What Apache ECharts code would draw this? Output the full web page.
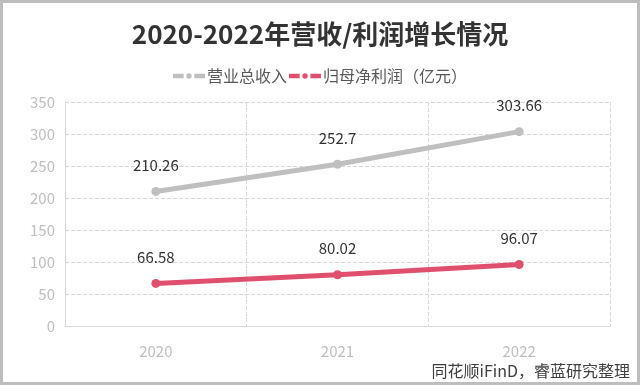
<!DOCTYPE html>
<html><head><meta charset="utf-8">
<script src="https://cdn.jsdelivr.net/npm/echarts@6/dist/echarts.min.js"></script>
<style>html,body{margin:0;padding:0;background:#fff}#c{width:640px;height:385px}</style>
</head><body><div id="c"></div>
<script>
const categories = ['2020', '2021', '2022'];
const revenue = [210.26, 252.7, 303.66];
const netProfit = [66.58, 80.02, 96.07];
const seriesNames = ['营业总收入', '归母净利润（亿元）'];
const yTicks = [0, 50, 100, 150, 200, 250, 300, 350];

const chart = echarts.init(document.getElementById('c'));
const font = '"Noto Sans CJK SC", "Microsoft YaHei", sans-serif';
const legendIcon = 'path://M0,3h10v4h-10z M12.5,5a2.5,2.5 0 1,0 5,0a2.5,2.5 0 1,0 -5,0z M20,3h10v4h-10z';
chart.setOption({
  animation: false,
  textStyle: { fontFamily: font },
  title: {
    text: '2020-2022年营收/利润增长情况',
    left: 'center', top: 16,
    textStyle: { fontSize: 26, fontWeight: 'bold', color: '#333', fontFamily: font }
  },
  legend: {
    top: 63, left: 'center',
    itemWidth: 32, itemHeight: 10, itemGap: 2,
    textStyle: { fontSize: 16, color: '#595959', fontFamily: font, padding: [0, 0, 0, -3] },
    data: [{ name: seriesNames[0], icon: legendIcon }, { name: seriesNames[1], icon: legendIcon }]
  },
  graphic: [{
    type: 'rect', shape: { x: 1.5, y: 1.5, width: 637, height: 382 },
    style: { fill: 'none', stroke: '#bdbdbd', lineWidth: 3 }, silent: true
  }, {
    type: 'text', right: 10, bottom: 6,
    style: { text: '同花顺iFinD，睿蓝研究整理', fontSize: 16, fill: '#404040', fontFamily: font }
  }],
  grid: { left: 65, right: 30, top: 102, bottom: 59 },
  xAxis: {
    type: 'category', data: categories,
    axisLine: { show: true, lineStyle: { color: '#d9d9d9' } },
    axisTick: { show: false },
    axisLabel: { color: '#bfbfbf', fontSize: 15, margin: 18 },
    splitLine: { show: true, interval: 0, lineStyle: { color: '#d9d9d9', type: 'dashed' } }
  },
  yAxis: {
    type: 'value', min: 0, max: 350, interval: 50,
    axisLine: { show: true, lineStyle: { color: '#d9d9d9' } },
    axisTick: { show: false },
    axisLabel: { color: '#bfbfbf', fontSize: 15, margin: 10 },
    splitLine: { lineStyle: { color: '#d9d9d9', type: 'dashed' } }
  },
  series: [{
    name: seriesNames[0], type: 'line', data: revenue,
    symbol: 'circle', symbolSize: 9,
    lineStyle: { width: 5, color: '#bfbfbf' },
    itemStyle: { color: '#bfbfbf' },
    label: { show: true, position: 'top', distance: 14, fontSize: 15, color: '#333' }
  }, {
    name: seriesNames[1], type: 'line', data: netProfit,
    symbol: 'circle', symbolSize: 9,
    lineStyle: { width: 5, color: '#e0506e' },
    itemStyle: { color: '#e0506e' },
    label: { show: true, position: 'top', distance: 14, fontSize: 15, color: '#333' }
  }]
});
</script></body></html>
